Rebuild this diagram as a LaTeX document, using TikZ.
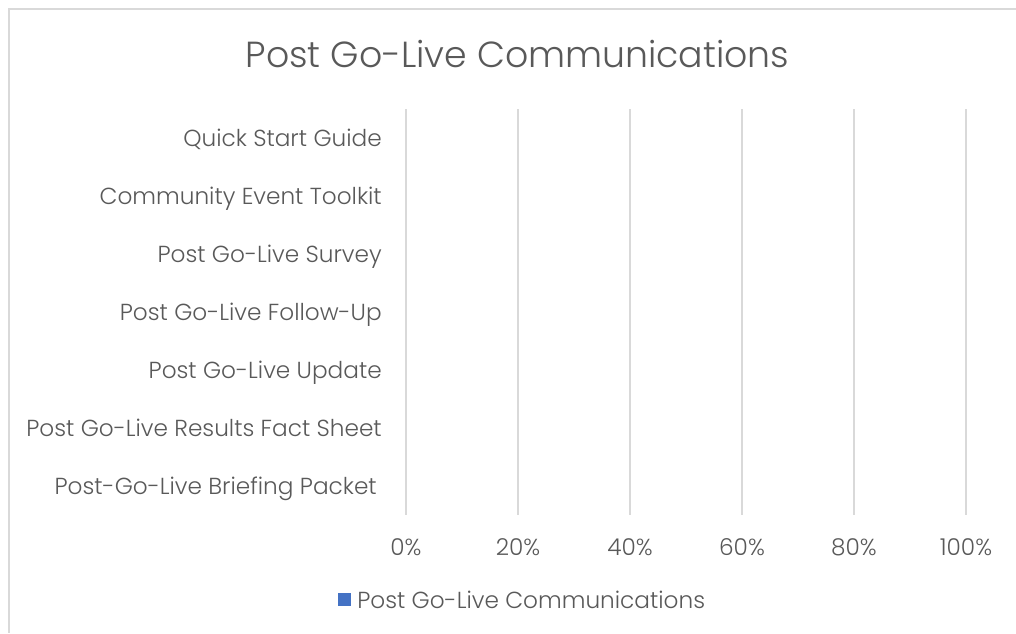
\documentclass[tikz,border=0pt]{standalone}
\usepackage{fontspec}
\setmainfont{Poppins Light}
\definecolor{txt}{HTML}{595959}
\definecolor{grid}{HTML}{D9D9D9}
\definecolor{ser}{HTML}{4472C4}
\begin{document}
\begin{tikzpicture}[x=0.75pt,y=-0.75pt,
  lbl/.style={inner sep=0pt,anchor=base east,text=txt,font=\fontsize{17.4}{20}\selectfont},
  tick/.style={inner sep=0pt,anchor=base,text=txt,font=\fontsize{17.4}{20}\selectfont},
  ttl/.style={inner sep=0pt,anchor=base,text=txt,font=\fontsize{27.2}{30}\selectfont},
  gridline/.style={draw=grid,line width=1.1pt},
  frame/.style={draw=grid,line width=1.1pt}]
\useasboundingbox (0,0) rectangle (1016,633);
\fill[white] (0,0) rectangle (1016,633);
\coordinate (tl) at (9,9);
\coordinate (tr) at (1016,9);
\coordinate (bl) at (9,633);
\draw[frame] (tr) -- (tl) -- (bl);
\node[ttl] (title) at (517.5,67) {Post Go-Live Communications};
\foreach \i/\p in {0/0,1/20,2/40,3/60,4/80,5/100}{
  \coordinate (g\i t) at (406+112*\i,109);
  \coordinate (g\i b) at (406+112*\i,515);
  \draw[gridline] (g\i t) -- (g\i b);
  \node[tick] (t\i) at (406+112*\i,555) {\p\%};
}
\node[lbl] (c1) at (382,146) {Quick Start Guide};
\node[lbl] (c2) at (382,204) {Community Event Toolkit};
\node[lbl] (c3) at (382,262) {Post Go-Live Survey};
\node[lbl] (c4) at (382,320) {Post Go-Live Follow-Up};
\node[lbl] (c5) at (382,378) {Post Go-Live Update};
\node[lbl] (c6) at (382,436) {Post Go-Live Results Fact Sheet};
\node[lbl] (c7) at (377,494) {Post-Go-Live Briefing Packet};
\fill[ser] (338,593) rectangle (351,606);
\node[lbl,anchor=base west] (leg) at (357,608) {Post Go-Live Communications};
\end{tikzpicture}
\end{document}
